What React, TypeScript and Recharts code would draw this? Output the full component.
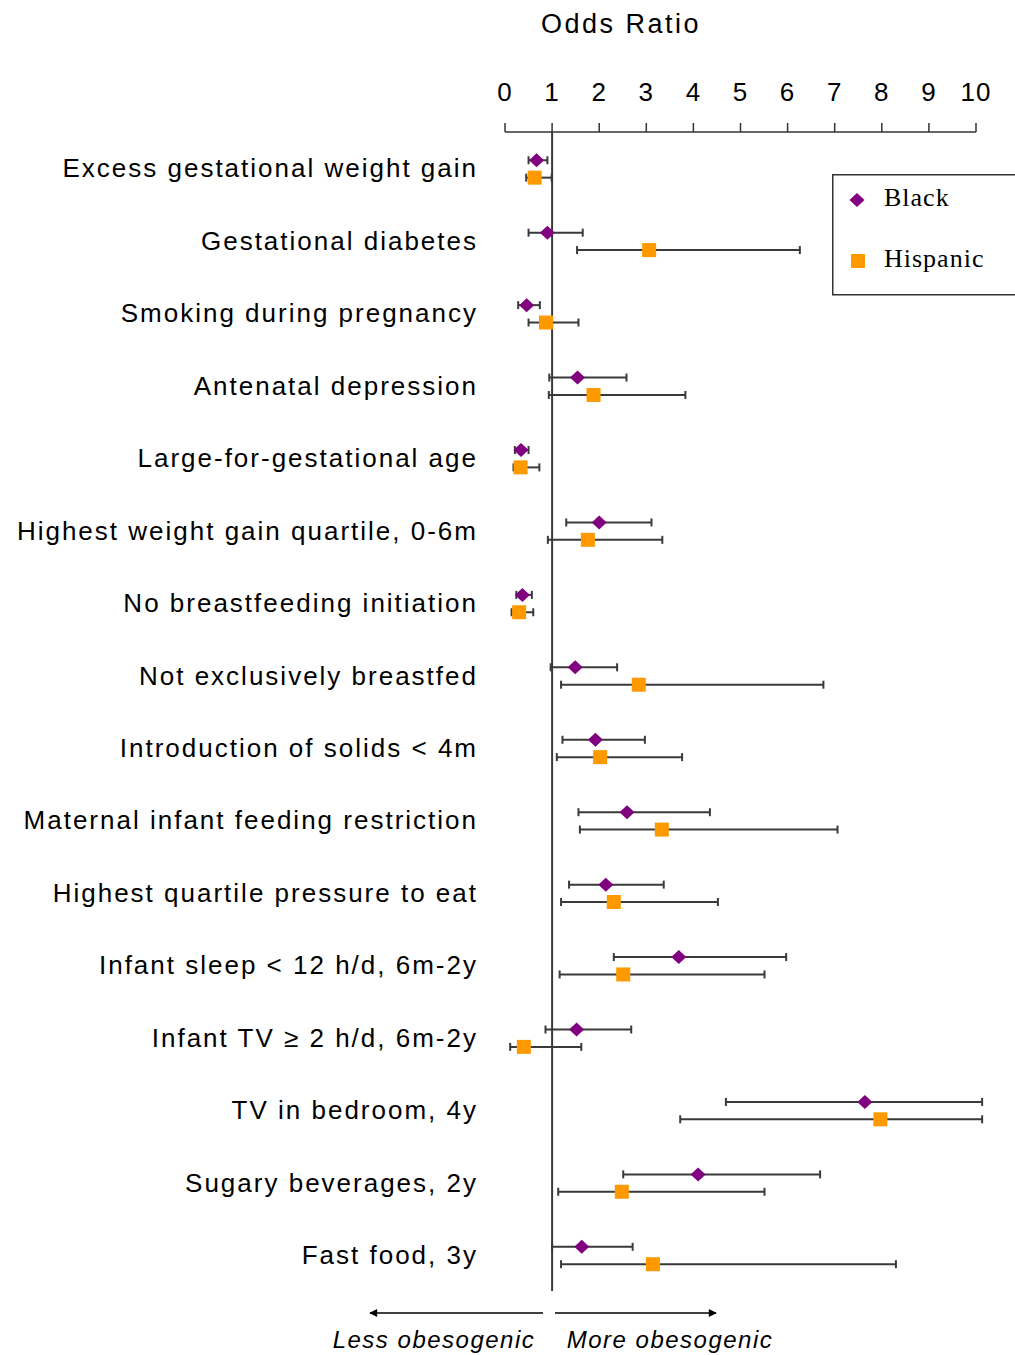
import {
  ScatterChart,
  Scatter,
  XAxis,
  YAxis,
  ErrorBar,
  ReferenceLine,
  Legend,
} from 'recharts';

const categories = [
  'Excess gestational weight gain',
  'Gestational diabetes',
  'Smoking during pregnancy',
  'Antenatal depression',
  'Large-for-gestational age',
  'Highest weight gain quartile, 0-6m',
  'No breastfeeding initiation',
  'Not exclusively breastfed',
  'Introduction of solids < 4m',
  'Maternal infant feeding restriction',
  'Highest quartile pressure to eat',
  'Infant sleep < 12 h/d, 6m-2y',
  'Infant TV \u2265 2 h/d, 6m-2y',
  'TV in bedroom, 4y',
  'Sugary beverages, 2y',
  'Fast food, 3y',
];

const blackOR = [0.67, 0.9, 0.46, 1.54, 0.34, 2.0, 0.37, 1.49, 1.92, 2.59, 2.14, 3.69, 1.52, 7.64, 4.1, 1.63];
const blackLow = [0.5, 0.5, 0.28, 0.94, 0.21, 1.3, 0.24, 0.97, 1.22, 1.56, 1.36, 2.31, 0.86, 4.69, 2.51, 1.0];
const blackHigh = [0.9, 1.65, 0.74, 2.58, 0.5, 3.11, 0.57, 2.38, 2.97, 4.35, 3.37, 5.97, 2.68, 10.13, 6.69, 2.71];

const hispanicOR = [0.63, 3.06, 0.87, 1.88, 0.33, 1.76, 0.3, 2.84, 2.02, 3.33, 2.31, 2.51, 0.4, 7.97, 2.48, 3.14];
const hispanicLow = [0.45, 1.53, 0.5, 0.93, 0.18, 0.91, 0.14, 1.19, 1.1, 1.59, 1.19, 1.16, 0.11, 3.72, 1.13, 1.19];
const hispanicHigh = [0.99, 6.26, 1.56, 3.83, 0.73, 3.34, 0.6, 6.76, 3.76, 7.06, 4.52, 5.51, 1.62, 10.13, 5.51, 8.3];

const xTicks = [0, 1, 2, 3, 4, 5, 6, 7, 8, 9, 10];

const PURPLE = '#800080';
const ORANGE = '#FF9900';
const INK = '#3a3a3a';
const SANS = '"Liberation Sans", Arial, sans-serif';
const SERIF = '"Liberation Serif", "Times New Roman", serif';

// small vertical offset so the two groups sit above/below the row centre
const buildRows = (or: number[], lo: number[], hi: number[], shift: number) =>
  or.map((v, i) => ({
    x: v,
    y: i + shift,
    err: [v - lo[i], hi[i] - v],
  }));

const blackData = buildRows(blackOR, blackLow, blackHigh, -0.11);
const hispanicData = buildRows(hispanicOR, hispanicLow, hispanicHigh, 0.13);

const Diamond = (props: any) => {
  const { cx, cy } = props;
  if (cx == null || cy == null) return null;
  return (
    <polygon
      points={`${cx},${cy - 7} ${cx + 7.5},${cy} ${cx},${cy + 7} ${cx - 7.5},${cy}`}
      fill={PURPLE}
    />
  );
};

const Square = (props: any) => {
  const { cx, cy } = props;
  if (cx == null || cy == null) return null;
  return <rect x={cx - 7} y={cy - 7} width={14} height={14} fill={ORANGE} />;
};

const renderLegend = (props: any) => {
  const items = props.payload || [];
  return (
    <svg width={200} height={122} style={{ display: 'block' }}>
      <rect x={0.75} y={0.75} width={210} height={120} fill="#fff" stroke="#333" strokeWidth={1.5} />
      {items.map((item: any, i: number) => {
        const cy = 26 + i * 61;
        return (
          <g key={item.value}>
            {item.value === 'Black' ? (
              <Diamond cx={25} cy={cy} />
            ) : (
              <Square cx={26} cy={cy} />
            )}
            <text x={52} y={cy + 6} fontFamily={SERIF} fontSize={26} letterSpacing={1} fill="#000">
              {item.value}
            </text>
          </g>
        );
      })}
    </svg>
  );
};

export default function App() {
  return (
    <div
      style={{
        position: 'absolute',
        left: 0,
        top: 0,
        width: 1015,
        height: 1355,
        overflow: 'hidden',
        background: '#fff',
      }}
    >
      <ScatterChart
        width={1015}
        height={1355}
        margin={{ top: 0, right: 39, bottom: 64, left: 0 }}
      >
        <XAxis
          type="number"
          dataKey="x"
          orientation="top"
          domain={[0, 10]}
          ticks={xTicks}
          allowDataOverflow
          height={132}
          tickSize={9}
          tickMargin={22}
          axisLine={{ stroke: '#333', strokeWidth: 1.5 }}
          tickLine={{ stroke: '#333', strokeWidth: 1.5 }}
          tick={{ fill: '#000', fontSize: 26, fontFamily: SANS, letterSpacing: 1 }}
          interval={0}
        />
        <YAxis
          type="number"
          dataKey="y"
          domain={[-0.5, 15.5]}
          reversed
          ticks={categories.map((_, i) => i)}
          tickFormatter={(v: number) => categories[v] ?? ''}
          width={505}
          axisLine={false}
          tickLine={false}
          tickSize={0}
          tickMargin={27}
          interval={0}
          tick={{ fill: '#000', fontSize: 26, fontFamily: SANS, letterSpacing: 2 }}
        />
        <ReferenceLine x={1} stroke={INK} strokeWidth={2} />
        <Legend
          layout="vertical"
          align="center"
          verticalAlign="middle"
          content={renderLegend}
          wrapperStyle={{ left: 832, top: 174, width: 200, height: 122 }}
        />
        <Scatter name="Black" data={blackData} shape={Diamond} isAnimationActive={false} fill={PURPLE}>
          <ErrorBar dataKey="err" direction="x" width={4} stroke={INK} strokeWidth={2} />
        </Scatter>
        <Scatter name="Hispanic" data={hispanicData} shape={Square} isAnimationActive={false} fill={ORANGE}>
          <ErrorBar dataKey="err" direction="x" width={4} stroke={INK} strokeWidth={2} />
        </Scatter>
      </ScatterChart>

      <svg
        width={1015}
        height={1355}
        style={{ position: 'absolute', left: 0, top: 0, pointerEvents: 'none' }}
      >
        <defs>
          <marker id="arrowHead" viewBox="0 0 10 10" refX={9} refY={5} markerWidth={10} markerHeight={8} orient="auto-start-reverse" markerUnits="userSpaceOnUse">
            <path d="M0,0 L10,5 L0,10 z" fill="#000" />
          </marker>
        </defs>
        <text x={621} y={33} textAnchor="middle" fontFamily={SANS} fontSize={27} letterSpacing={2.5} fill="#000">
          Odds Ratio
        </text>
        <line x1={543} y1={1313} x2={370} y2={1313} stroke="#000" strokeWidth={1.5} markerEnd="url(#arrowHead)" />
        <line x1={555} y1={1313} x2={716} y2={1313} stroke="#000" strokeWidth={1.5} markerEnd="url(#arrowHead)" />
        <text x={434} y={1348} textAnchor="middle" fontFamily={SANS} fontSize={24} fontStyle="italic" letterSpacing={1.5} fill="#000">
          Less obesogenic
        </text>
        <text x={670} y={1348} textAnchor="middle" fontFamily={SANS} fontSize={24} fontStyle="italic" letterSpacing={1.5} fill="#000">
          More obesogenic
        </text>
      </svg>
    </div>
  );
}
